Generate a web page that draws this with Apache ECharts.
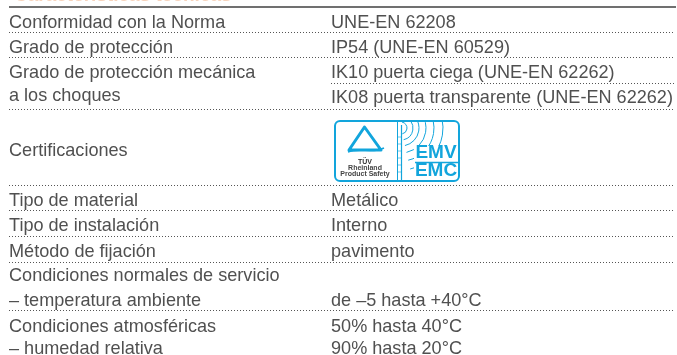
<!DOCTYPE html>
<html>
<head>
<meta charset="utf-8">
<style>
  html, body { margin: 0; padding: 0; background: #fff; }
  #main { width: 677px; height: 355px; }
</style>
<script src="https://cdn.jsdelivr.net/npm/echarts@6/dist/echarts.min.js"></script>
</head>
<body>
<div id="main"></div>
<script>
// table contents
const leftLabels = [
  'Conformidad con la Norma',
  'Grado de protección',
  'Grado de protección mecánica',
  'a los choques',
  'Certificaciones',
  'Tipo de material',
  'Tipo de instalación',
  'Método de fijación',
  'Condiciones normales de servicio',
  '– temperatura ambiente',
  'Condiciones atmosféricas',
  '– humedad relativa',
]
const rightLabels = [
  'UNE-EN 62208',
  'IP54 (UNE-EN 60529)',
  'IK10 puerta ciega (UNE-EN 62262)',
  'IK08 puerta transparente (UNE-EN 62262)',
  'Metálico',
  'Interno',
  'pavimento',
  'de –5 hasta +40°C',
  '50% hasta 40°C',
  '90% hasta 20°C',
]
const titleLabel = 'Características técnicas'

// layout, in picture pixels
const leftRowY = [23, 48, 73, 96, 151, 201, 226, 252, 276, 301, 327, 349]
const rightRowY = [23, 48, 73, 98, 201, 226, 252, 301, 327, 349]
const fullRules = [33, 58, 110, 186, 211, 237, 263, 311]
const rightOnlyRules = [84]
const LEFT_X = 9
const RIGHT_X = 331
const END_X = 675
const TEXT_COLOR = '#505050'
const LOGO_COLOR = '#12a5dc'
const FONT = '"Liberation Sans", Arial, sans-serif'

function renderText(params, api) {
  const p = api.coord([api.value(0), api.value(1)])
  return {
    type: 'text',
    style: {
      x: p[0],
      y: p[1],
      text: api.value(2),
      fill: TEXT_COLOR,
      font: '18.1px ' + FONT,
      verticalAlign: 'middle',
    },
  }
}

function renderRule(params, api) {
  const a = api.coord([api.value(0), api.value(2)])
  const b = api.coord([api.value(1), api.value(2)])
  return {
    type: 'line',
    shape: { x1: a[0], y1: a[1] - 0.5, x2: b[0], y2: b[1] - 0.5 },
    style: { stroke: '#555', lineWidth: 1, lineDash: [1, 2] },
  }
}

// certification logo, drawn relative to its top left corner
function renderLogo(params, api) {
  const p = api.coord([api.value(0), api.value(1)])
  const stroke = (extra) => ({ fill: 'none', stroke: LOGO_COLOR, ...extra })
  const arcs = [6, 12, 18, 25, 33, 42].map((r) => ({
    type: 'arc',
    shape: { cx: 66, cy: 7, r, startAngle: -1.4, endAngle: 1.35, clockwise: true },
    style: stroke({ lineWidth: 1 }),
  }))
  const rungs = [16, 23, 30, 37, 44, 51].map((y) => ({
    type: 'line',
    shape: { x1: 63, y1: y, x2: 67, y2: y },
    style: stroke({ lineWidth: 0.6 }),
  }))
  const logoText = (text, x, y, size, fill) => ({
    type: 'text',
    style: { x, y, text, fill, font: 'bold ' + size + 'px ' + FONT, align: 'center', verticalAlign: 'middle' },
  })
  return {
    type: 'group',
    x: p[0],
    y: p[1],
    children: [
      {
        type: 'group',
        clipPath: { type: 'rect', shape: { x: 1, y: 1, width: 122, height: 58 } },
        children: arcs,
      },
      // white mask behind the EMV / EMC lettering
      { type: 'rect', shape: { x: 79, y: 25, width: 43, height: 34 }, style: { fill: '#fff' } },
      { type: 'rect', shape: { x: 0, y: 0, width: 124, height: 60, r: 5 }, style: stroke({ lineWidth: 2 }) },
      { type: 'line', shape: { x1: 62.5, y1: 1, x2: 62.5, y2: 59 }, style: stroke({ lineWidth: 1 }) },
      { type: 'line', shape: { x1: 66.5, y1: 4, x2: 66.5, y2: 59 }, style: stroke({ lineWidth: 1.2 }) },
      ...rungs,
      { type: 'line', shape: { x1: 80, y1: 41.5, x2: 123, y2: 41.5 }, style: stroke({ lineWidth: 1.5 }) },
      {
        type: 'polygon',
        shape: { points: [[29.5, 6], [14, 29], [46, 29]] },
        style: stroke({ lineWidth: 3, lineJoin: 'round' }),
      },
      {
        type: 'bezierCurve',
        shape: { x1: 13, y1: 31, x2: 49, y2: 27, cpx1: 25, cpy1: 26, cpx2: 37, cpy2: 33 },
        style: stroke({ lineWidth: 1.5 }),
      },
      logoText('TÜV', 30, 41, 7, '#333'),
      logoText('Rheinland', 30, 47, 7, '#444'),
      logoText('Product Safety', 30, 53, 7, '#444'),
      logoText('EMV', 101, 32, 19, LOGO_COLOR),
      logoText('EMC', 101, 50, 19, LOGO_COLOR),
    ],
  }
}

// heavy rule under the clipped section title
function renderHeader(params, api) {
  const a = api.coord([api.value(0), api.value(2)])
  const b = api.coord([api.value(1), api.value(2)])
  return {
    type: 'group',
    children: [
      {
        type: 'text',
        style: {
          x: a[0] + 5,
          y: 5,
          text: titleLabel,
          fill: '#f7d3bb',
          font: 'bold 19px ' + FONT,
          verticalAlign: 'bottom',
        },
      },
      {
        type: 'rect',
        shape: { x: a[0], y: a[1], width: b[0] - a[0], height: 2 },
        style: { fill: '#707070' },
      },
    ],
  }
}

const textData = [
  ...leftLabels.map((t, i) => [LEFT_X, leftRowY[i], t]),
  ...rightLabels.map((t, i) => [RIGHT_X, rightRowY[i], t]),
]
const ruleData = [
  ...fullRules.map((y) => [LEFT_X, END_X, y]),
  ...rightOnlyRules.map((y) => [RIGHT_X, END_X, y]),
]

const customSeries = (renderItem, data) => ({
  type: 'custom',
  coordinateSystem: 'cartesian2d',
  renderItem,
  data,
  silent: true,
})

const chart = echarts.init(document.getElementById('main'), null, { renderer: 'canvas' })
chart.setOption({
  animation: false,
  grid: { left: 0, top: 0, right: 0, bottom: 0 },
  xAxis: { type: 'value', min: 0, max: 677, show: false },
  yAxis: { type: 'value', min: 0, max: 355, inverse: true, show: false },
  series: [
    customSeries(renderHeader, [[LEFT_X, END_X + 1, 6]]),
    customSeries(renderRule, ruleData),
    customSeries(renderText, textData),
    customSeries(renderLogo, [[335, 121]]),
  ],
})
</script>
</body>
</html>
